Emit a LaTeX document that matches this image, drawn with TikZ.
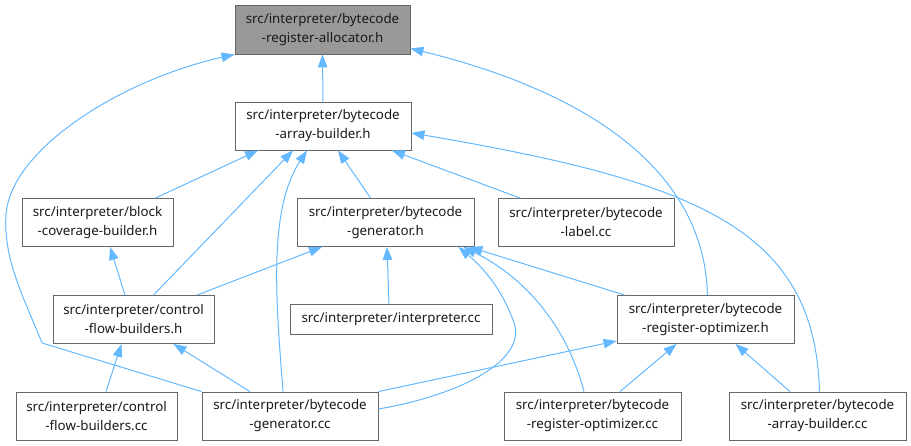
\documentclass[tikz,border=0pt]{standalone}
\usepackage{fontspec}
\setmainfont{Noto Sans}
\usetikzlibrary{arrows.meta}
\definecolor{EdgeBlue} {HTML}{63B8FF}
\definecolor{FrameGray}{HTML}{666666}
\definecolor{MainGray} {HTML}{999999}
\definecolor{TextBlack}{HTML}{1A1A1A}
\tikzset{
  file/.style={rectangle,draw=FrameGray,fill=white,line width=0.9pt,
               minimum width=#1,minimum height=48pt,inner sep=0pt,align=center,
               font=\fontsize{13.33}{19}\selectfont\color{TextBlack}},
  mainfile/.style={file=#1,fill=MainGray},
  dep/.style={draw=EdgeBlue,line width=1pt,
              -{Triangle[length=13pt,width=9.5pt]}},
}
\begin{document}
\begin{tikzpicture}[x=1pt,y=-1pt]
  \useasboundingbox (0,0) rectangle (911,446);

  % files
  \node[mainfile=175pt,minimum height=49pt] (ra) at (322.5,29.5)
       {src/interpreter/bytecode\\-register-allocator.h};
  \node[file=176pt] (ab)    at (323,126)   {src/interpreter/bytecode\\-array-builder.h};
  \node[file=151pt] (bc)    at (97.5,222.5) {src/interpreter/block\\-coverage-builder.h};
  \node[file=177pt] (gh)    at (385.5,222.5){src/interpreter/bytecode\\-generator.h};
  \node[file=176pt] (lc)    at (586,222.5) {src/interpreter/bytecode\\-label.cc};
  \node[file=161pt] (cfh)   at (133.5,319.5){src/interpreter/control\\-flow-builders.h};
  \node[file=202pt,minimum height=30pt] (ic) at (391,319) {src/interpreter/interpreter.cc};
  \node[file=177pt] (roh)   at (705.5,319.5){src/interpreter/bytecode\\-register-optimizer.h};
  \node[file=161pt] (cfbcc) at (96.5,416)  {src/interpreter/control\\-flow-builders.cc};
  \node[file=176pt] (gencc) at (290,416)   {src/interpreter/bytecode\\-generator.cc};
  \node[file=177pt] (rocc)  at (592.5,416) {src/interpreter/bytecode\\-register-optimizer.cc};
  \node[file=177pt] (abcc)  at (817.5,416) {src/interpreter/bytecode\\-array-builder.cc};

  % includes
  \draw[dep] (ab.north) -- (ra.south);
  \draw[dep] (gencc.north west) -- (42,343)
             .. controls (25,300) and (3,260) .. (6,215)
             .. controls (10,150) and (120,80) .. (ra.south west);
  \draw[dep] ([xshift=2pt]roh.north) .. controls (705,190) and (620,100)
             .. ([yshift=6pt]ra.south east);

  \draw[dep] ([xshift=-18pt]bc.north east) -- ([xshift=-65pt]ab.south);
  \draw[dep] ([xshift=20pt]cfh.north) -- ([xshift=-30pt]ab.south);
  \draw[dep] ([xshift=-7pt]gencc.north) .. controls (276,300) and (268,210)
             .. ([xshift=-16pt]ab.south);
  \draw[dep] ([xshift=-15pt]gh.north) -- ([xshift=15pt]ab.south);
  \draw[dep] ([xshift=-66pt]lc.north) -- ([xshift=69pt]ab.south);
  \draw[dep] ([xshift=2pt]abcc.north) .. controls (815,230) and (700,182)
             .. ([yshift=-7pt]ab.east);

  \draw[dep] ([xshift=-8.5pt]cfh.north) -- ([xshift=12.5pt]bc.south);

  \draw[dep] ([xshift=63.5pt]cfh.north) -- ([xshift=-63.5pt]gh.south);
  \draw[dep] ([xshift=-2pt]ic.north) -- ([xshift=1.5pt]gh.south);
  \draw[dep] ([xshift=8pt]roh.north west) -- ([xshift=-5pt]gh.south east);
  \draw[dep] ([yshift=7pt]gencc.east) .. controls (460,395) and (530,360) .. (513,320)
             .. controls (500,285) and (480,265) .. ([xshift=-16pt]gh.south east);
  \draw[dep] ([xshift=-8.5pt]rocc.north) .. controls (565,320) and (520,275)
             .. ([xshift=-11pt]gh.south east);

  \draw[dep] (gencc.north east) -- ([yshift=3pt]roh.south west);
  \draw[dep] ([xshift=-40pt]gencc.north) -- ([xshift=40pt]cfh.south);
  \draw[dep] ([xshift=9.5pt]cfbcc.north) -- ([xshift=-12pt]cfh.south);
  \draw[dep] ([xshift=27.5pt]rocc.north) -- ([xshift=-29pt]roh.south);
  \draw[dep] ([xshift=-27.5pt]abcc.north) -- ([xshift=30pt]roh.south);

\end{tikzpicture}
\end{document}
